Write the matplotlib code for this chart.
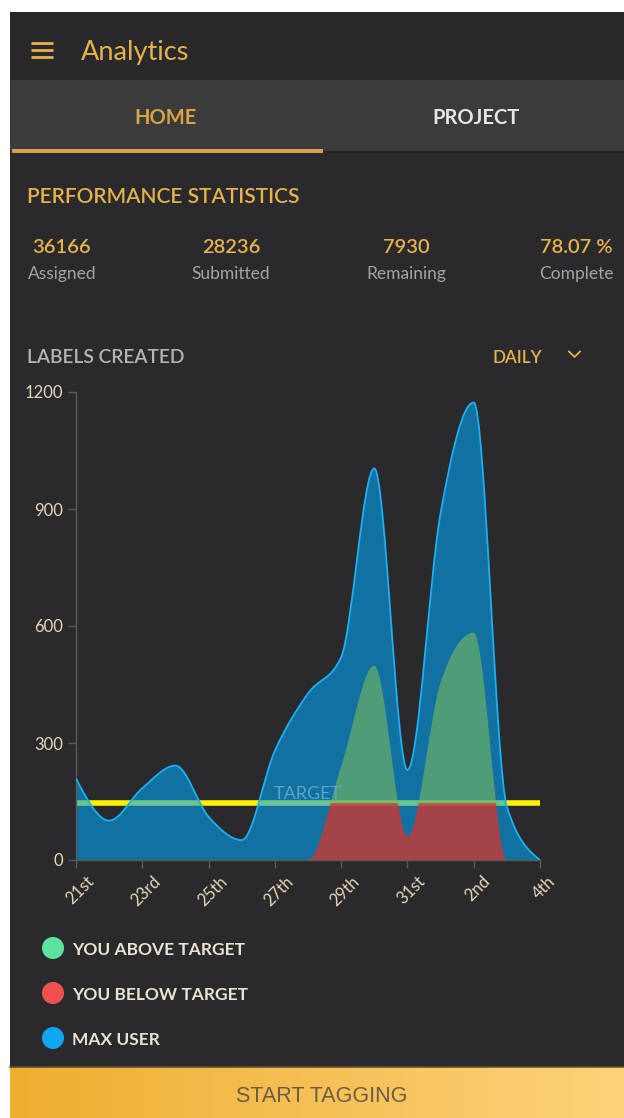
import matplotlib
matplotlib.use("Agg")
import matplotlib.pyplot as plt
import numpy as np
import matplotlib.transforms as mtransforms
from matplotlib.path import Path
from matplotlib.patches import PathPatch, Rectangle, Circle

# --- data ---
day_labels = ["21st", "22nd", "23rd", "24th", "25th", "26th", "27th", "28th",
              "29th", "30th", "31st", "1st", "2nd", "3rd", "4th"]
max_user = [209, 101, 184, 242, 111, 51, 280, 427, 520, 1004, 231, 889, 1173, 137, 0]
you = [0, 0, 0, 0, 0, 0, 0, 0, 240, 498, 60, 455, 583, 0, 0]
target = 145
y_ticks = [0, 300, 600, 900, 1200]

stat_values = ["36166", "28236", "7930", "78.07 %"]
stat_labels = ["Assigned", "Submitted", "Remaining", "Complete"]
legend_labels = ["YOU ABOVE TARGET", "YOU BELOW TARGET", "MAX USER"]
legend_colors = ["#5de3a0", "#f04f4f", "#0fa6f2"]

GOLD = "#e6b24a"
BG = "#2a2a2d"
W, H = 624, 1118


def monotone_path(xs, ys, closed=False):
    # d3 curveMonotoneX as cubic bezier segments
    xs = np.asarray(xs, float)
    ys = np.asarray(ys, float)
    h = np.diff(xs)
    s = np.diff(ys) / h
    n = len(xs)
    m = np.zeros(n)
    for i in range(1, n - 1):
        s0, s1, h0, h1 = s[i - 1], s[i], h[i - 1], h[i]
        p = (s0 * h1 + s1 * h0) / (h0 + h1)
        m[i] = (np.sign(s0) + np.sign(s1)) * min(abs(s0), abs(s1), 0.5 * abs(p))
    m[0] = (3 * s[0] - m[1]) / 2
    m[-1] = (3 * s[-1] - m[-2]) / 2
    verts, codes = [], []
    if closed:
        verts.append((xs[0], 0)); codes.append(Path.MOVETO)
        verts.append((xs[0], ys[0])); codes.append(Path.LINETO)
    else:
        verts.append((xs[0], ys[0])); codes.append(Path.MOVETO)
    for i in range(n - 1):
        dx = h[i] / 3
        verts += [(xs[i] + dx, ys[i] + dx * m[i]),
                  (xs[i + 1] - dx, ys[i + 1] - dx * m[i + 1]),
                  (xs[i + 1], ys[i + 1])]
        codes += [Path.CURVE4] * 3
    if closed:
        verts.append((xs[-1], 0)); codes.append(Path.LINETO)
        verts.append((xs[0], 0)); codes.append(Path.CLOSEPOLY)
    return Path(verts, codes)


plt.rcParams["font.family"] = ["Lato", "DejaVu Sans"]
fig = plt.figure(figsize=(W / 100, H / 100), dpi=100, facecolor="white")

# page background in pixel coordinates
bg = fig.add_axes([0, 0, 1, 1], zorder=0)
bg.set_xlim(0, W)
bg.set_ylim(H, 0)
bg.axis("off")

bg.add_patch(Rectangle((10, 12), W - 10, H - 12, color=BG, lw=0))
bg.add_patch(Rectangle((10, 12), W - 10, 68, color="#29292c", lw=0))
bg.add_patch(Rectangle((10, 80), W - 10, 71, color="#3b3b3b", lw=0))
bg.add_patch(Rectangle((10, 151), W - 10, 2, color="#242426", lw=0))
bg.add_patch(Rectangle((12, 149), 311, 4, color="#d4a24a", lw=0))

# header
for yy in (43, 50, 57):
    bg.plot([31, 53], [yy, yy], color=GOLD, lw=2, solid_capstyle="butt")
bg.text(81, 60, "Analytics", color=GOLD, fontsize=19.5, va="baseline", ha="left")
bg.text(166, 124, "HOME", color="#d9a441", fontsize=14.5, weight="bold",
        va="baseline", ha="center")
bg.text(476, 124, "PROJECT", color="#e6e6e6", fontsize=14.5, weight="bold",
        va="baseline", ha="center")

# stats
bg.text(27, 203, "PERFORMANCE STATISTICS", color=GOLD, fontsize=15,
        weight="semibold", va="baseline", ha="left")
stat_x = [62, 231, 406, 576]
for x, v, lab in zip(stat_x, stat_values, stat_labels):
    bg.text(x, 253, v, color=GOLD, fontsize=14.5, weight="semibold",
            va="baseline", ha="center")
    bg.text(x, 279, lab, color="#a3a3a3", fontsize=12.5, va="baseline", ha="center")

bg.text(27, 363, "LABELS CREATED", color="#b5b5b5", fontsize=13.8,
        weight="semibold", va="baseline", ha="left")
bg.text(493, 363, "DAILY", color=GOLD, fontsize=12.3, weight="semibold",
        va="baseline", ha="left")
bg.plot([569, 574.5, 580], [351.5, 357, 351.5], color=GOLD, lw=1.3)

# legend
for i, (lab, col) in enumerate(zip(legend_labels, legend_colors)):
    cy = 948 + i * 45
    bg.add_patch(Circle((53, cy), 11, color=col, lw=0))
    bg.text(72, cy + 7, lab, color="#ebe3d2", fontsize=12.5, weight="bold",
            va="baseline", ha="left")

# button with gradient
grad = np.linspace(0, 1, 256)[None, :]
cmap = matplotlib.colors.LinearSegmentedColormap.from_list("btn", ["#efae31", "#fdd27a"])
bg.imshow(grad, cmap=cmap, extent=(10, W, H, 1067), aspect="auto", zorder=1)
bg.plot([10, W], [1066.5, 1066.5], color="#5e5035", lw=1.2, zorder=2)
bg.text(322, 1102, "START TAGGING", color="#6b5d45", fontsize=15.5,
        family="Liberation Sans", va="baseline", ha="center", zorder=3)
bg.set_xlim(0, W)
bg.set_ylim(H, 0)

# chart
x = np.arange(len(day_labels))
ax = fig.add_axes([76 / W, (H - 860) / H, 464 / W, 468 / H], zorder=1)
ax.patch.set_alpha(0)
ax.set_xlim(0, len(day_labels) - 1)
ax.set_ylim(0, 1200)

ax.plot([0, len(day_labels) - 1], [target, target], color="#fff200", lw=4,
        solid_capstyle="butt", zorder=1)

blue_area = monotone_path(x, max_user, closed=True)
ax.add_patch(PathPatch(blue_area, facecolor="#00a6f8", alpha=0.58, lw=0, zorder=2))

you_area = monotone_path(x, you, closed=True)
red = PathPatch(you_area, facecolor="#d8352a", alpha=0.75, lw=0, zorder=3)
ax.add_patch(red)
red.set_clip_path(Rectangle((0, 0), len(day_labels) - 1, target, transform=ax.transData))
green = PathPatch(you_area, facecolor="#78bb5c", alpha=0.6, lw=0, zorder=3)
ax.add_patch(green)
green.set_clip_path(Rectangle((0, target), len(day_labels) - 1, 1200 - target,
                              transform=ax.transData))

ax.add_patch(PathPatch(monotone_path(x, max_user), fill=False,
                       edgecolor="#1cb0f0", lw=1.3, zorder=4))

ax.text(5.98, target + 12, "TARGET", color="#5aa4c6", fontsize=13,
        va="baseline", ha="left", zorder=5)

for side in ("top", "right"):
    ax.spines[side].set_visible(False)
for side in ("left", "bottom"):
    ax.spines[side].set_color("#595959")
    ax.spines[side].set_linewidth(1)
ax.set_yticks(y_ticks)
ax.set_xticks(x[::2])
ax.set_xticklabels(day_labels[::2], rotation=45, ha="center", va="top")
ax.tick_params(colors="#595959", labelcolor="#e6d7b4", length=6, width=1,
               labelsize=12)
offset = mtransforms.ScaledTranslation(4 / 100, 0, fig.dpi_scale_trans)
for lab in ax.get_xticklabels():
    lab.set_transform(lab.get_transform() + offset)

fig.savefig("out.png", dpi=100, facecolor="white")
